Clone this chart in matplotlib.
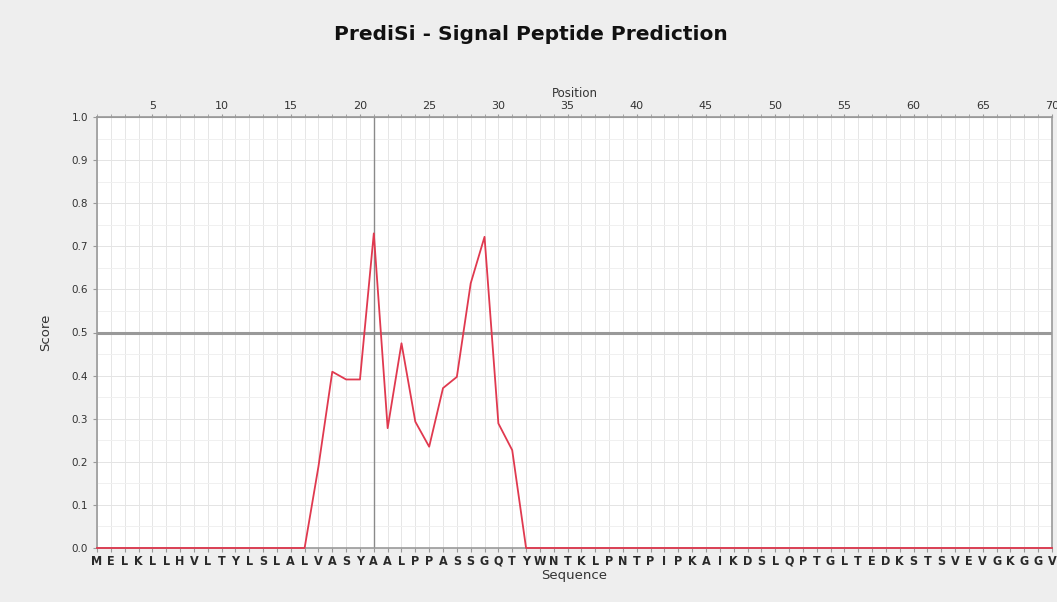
import matplotlib
matplotlib.use("Agg")
import matplotlib.pyplot as plt
import numpy as np

# PrediSi signal peptide prediction output
sequence = "MELKLLHVLTYLSLALVASYAALPPASSGQTYWNTKLPNTPIPKAIKDSLQPTGLTEDKSTSVEVGKGGV"
positions = list(range(1, len(sequence) + 1))

# scores, positions 1..70
scores = [0.0] * 15 + [0.0, 0.189, 0.409, 0.391, 0.391,
                       0.730, 0.278, 0.475, 0.293, 0.235,
                       0.371, 0.397, 0.614, 0.722, 0.289,
                       0.227, 0.0] + [0.0] * 38
cleavage_pos = 21
threshold = 0.5
top_ticks = list(range(5, 75, 5))
y_ticks = [round(0.1 * i, 1) for i in range(11)]

fig = plt.figure(figsize=(10.57, 6.02), dpi=100)
fig.patch.set_facecolor("#eeeeee")

ax = fig.add_axes([97 / 1057, 1 - 548 / 602, (1052 - 97) / 1057, (548 - 117) / 602])
ax.set_facecolor("white")

# grid
for p in positions:
    ax.axvline(p, color="#e6e6e6", lw=0.7, zorder=0)
for v in np.arange(0.05, 1.0, 0.05):
    ax.axhline(v, color="#e4e4e4" if round(v * 100) % 10 == 0 else "#f0f0f0", lw=0.7, zorder=0)

ax.axhline(threshold, color="#999999", lw=2.2, zorder=1)
ax.axvline(cleavage_pos, color="#8a8a8a", lw=1.0, zorder=1)
ax.plot(positions, scores, color="#e0394f", lw=1.3, zorder=5, clip_on=False)

ax.set_xlim(1, 70)
ax.set_ylim(0, 1.0)

ax.set_xticks(positions)
ax.set_xticklabels(list(sequence), fontsize=9, color="#2a2a2a", fontweight="bold",
                   family=["DejaVu Sans"], fontstretch="condensed")
ax.tick_params(axis="x", length=3, color="#999999", pad=2)
ax.set_xlabel("Sequence", fontsize=9.5, color="#333333", labelpad=1)

ax.set_yticks(y_ticks)
ax.set_yticklabels([f"{v:.1f}" for v in y_ticks], fontsize=7.5, color="#333333")
ax.tick_params(axis="y", length=3, color="#999999")
ax.set_ylabel("Score", fontsize=9.5, color="#333333", labelpad=14)

top = ax.secondary_xaxis("top")
top.set_xticks(top_ticks)
top.set_xticklabels([str(t) for t in top_ticks], fontsize=8, color="#333333")
top.set_xticks(positions, minor=True)
top.tick_params(axis="x", which="both", length=2, color="#999999", pad=2)
top.set_xlabel("Position", fontsize=8.5, color="#333333", labelpad=3)
top.spines["top"].set_color("#999999")

for s in ax.spines.values():
    s.set_color("#999999")
    s.set_linewidth(1.2)

fig.text(0.502, 0.942, "PrediSi - Signal Peptide Prediction", ha="center", va="center",
         fontsize=14.5, fontweight="bold", color="#111111")

fig.savefig("out.png", dpi=100, facecolor=fig.get_facecolor())
